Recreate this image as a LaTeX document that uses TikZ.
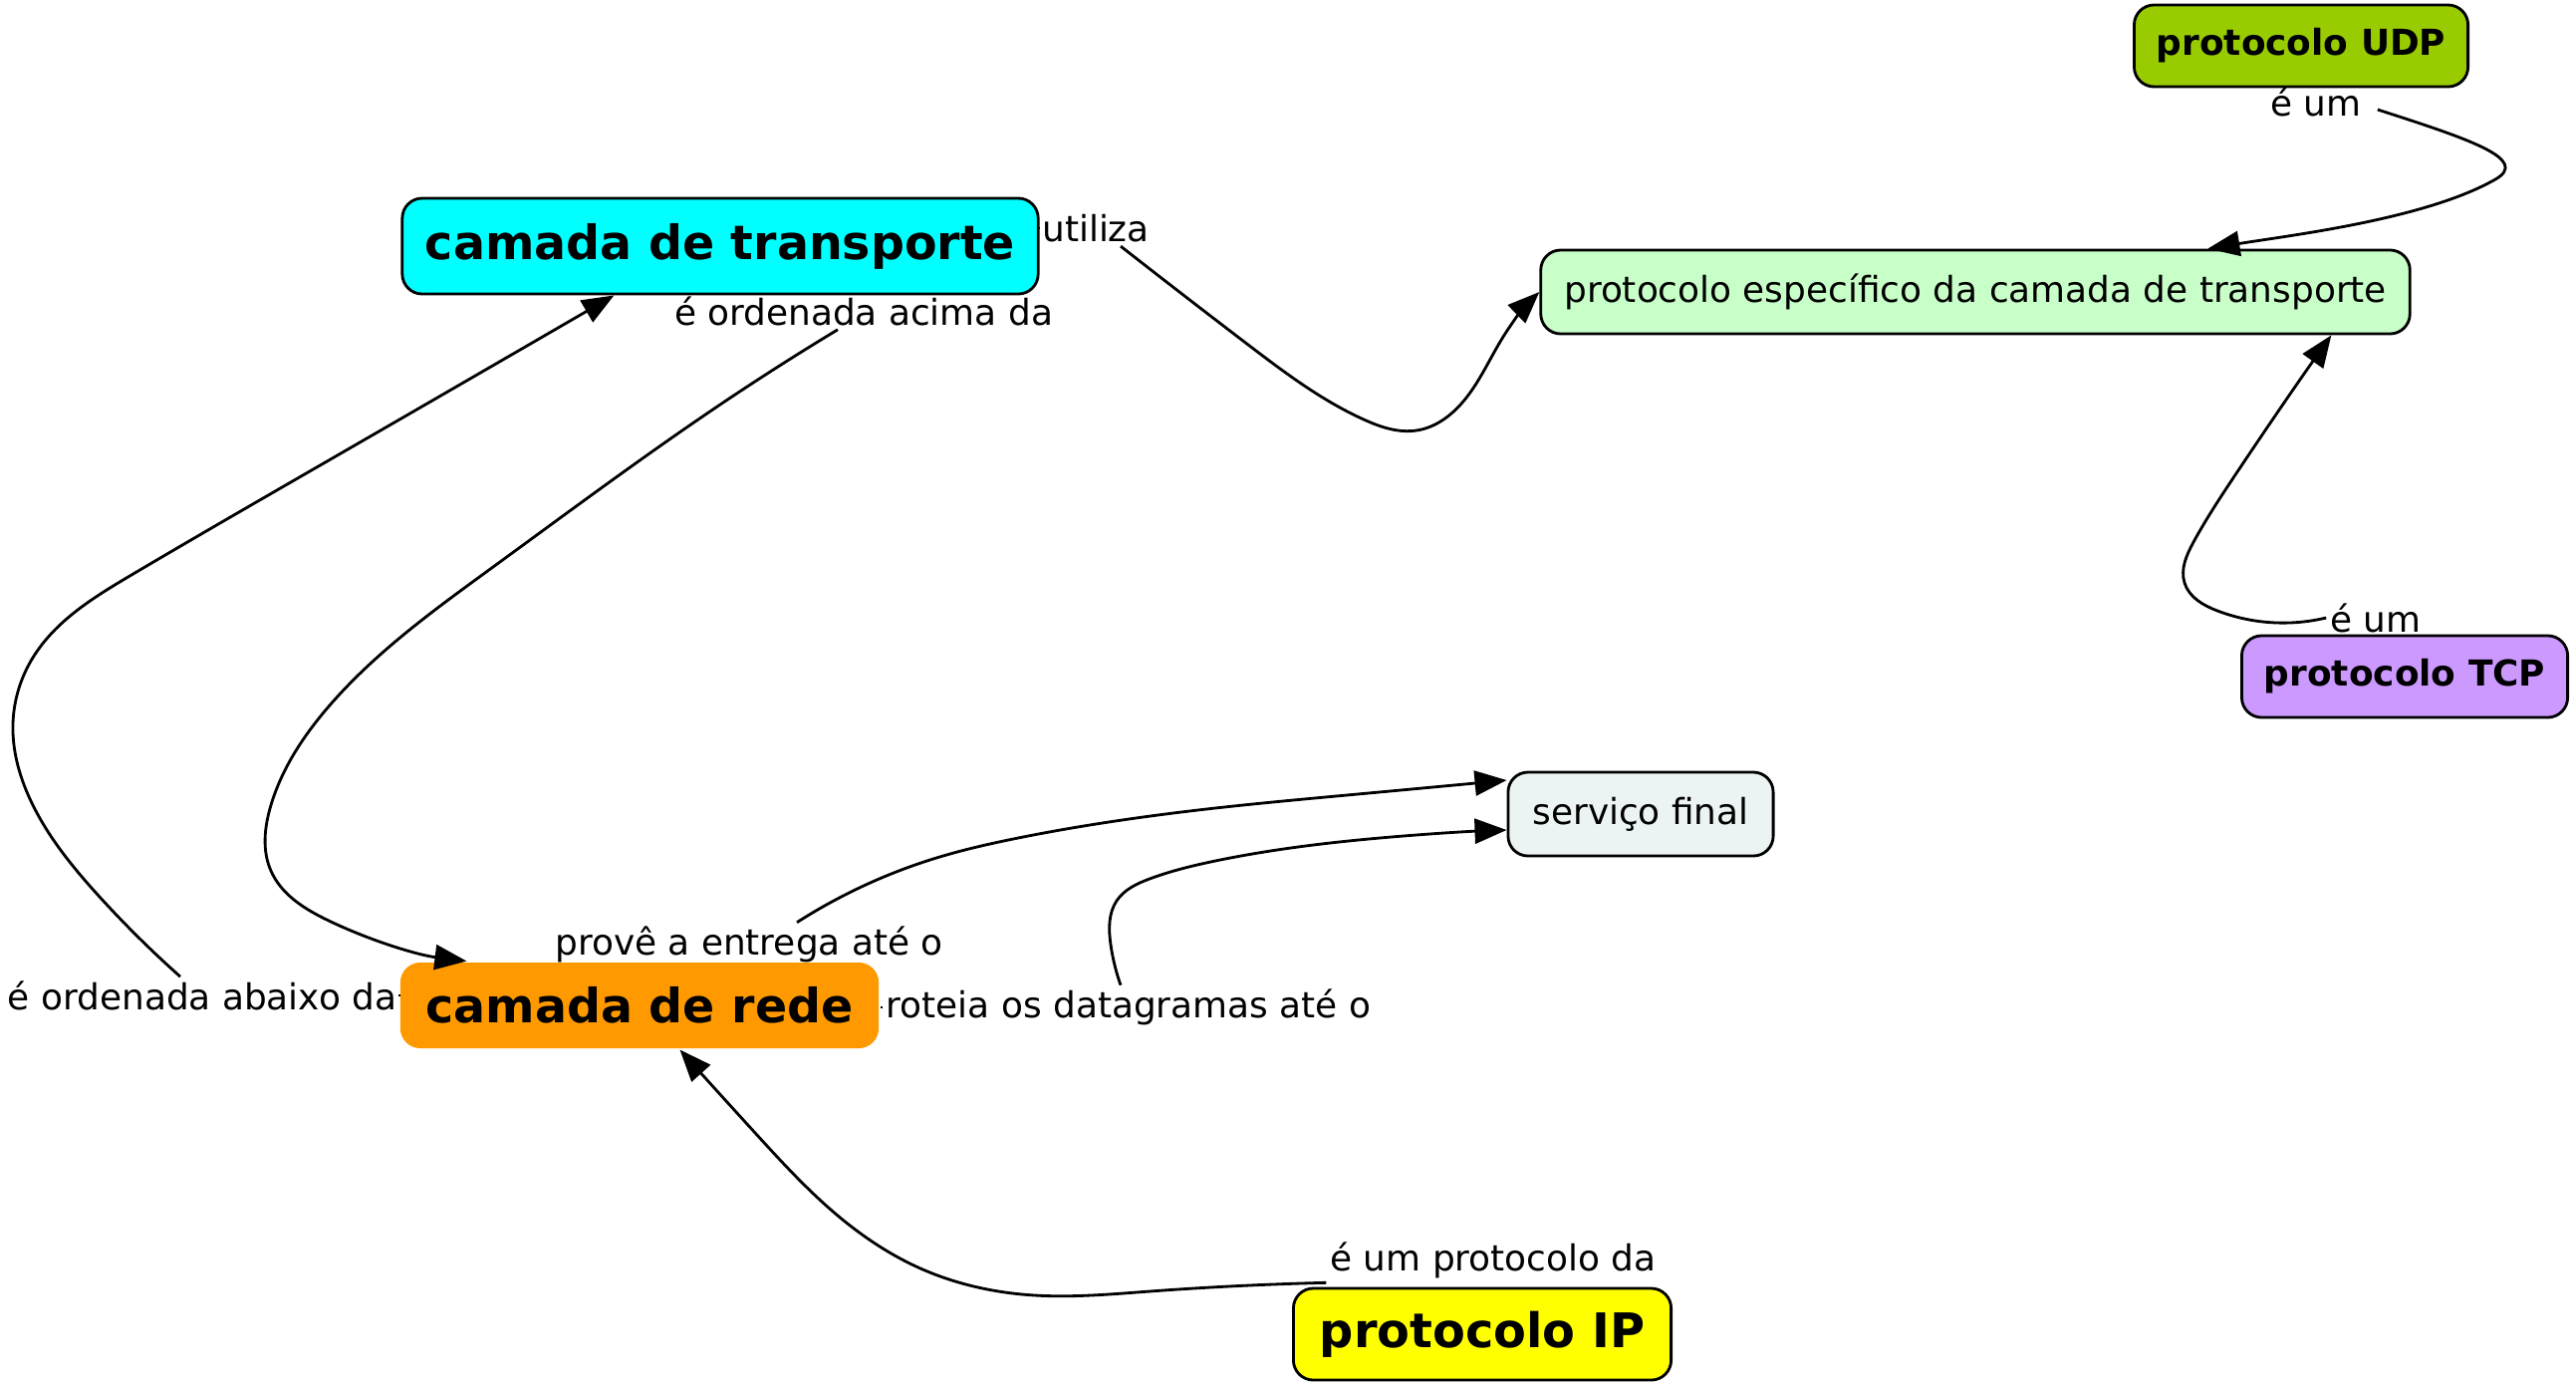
\documentclass[tikz,border=0pt]{standalone}
\usepackage{fontspec}
\setmainfont{DejaVu Sans}
\usepackage{xcolor}
\usetikzlibrary{calc, hobby, arrows.meta}

\definecolor{ctcyan}{HTML}{00FFFF}
\definecolor{pegreen}{HTML}{C8FFC8}
\definecolor{udpgreen}{HTML}{99CC00}
\definecolor{tcplilac}{HTML}{CC99FF}
\definecolor{sfgray}{HTML}{ECF3F3}
\definecolor{crorange}{HTML}{FF9900}
\definecolor{ipyellow}{HTML}{FFFF00}

\tikzset{
	concept/.style = {draw, line width = 0.8pt, rounded corners = 0.2cm, inner sep = 0pt, align = center},
	bigtxt/.style = {font = \fontsize{13.5}{16}\selectfont\bfseries},
	smalltxt/.style = {font = \fontsize{10.2}{12}\selectfont},
	smallbold/.style = {font = \fontsize{10.2}{12}\selectfont\bfseries},
	linkphrase/.style = {inner sep = 1pt, font = \fontsize{10.2}{12}\selectfont},
	arrowlink/.style = {line width = 0.8pt, -{Triangle[length = 0.32cm, width = 0.25cm]}},
	link/.style = {arrowlink, use Hobby shortcut},
	tick/.style = {line width = 0.8pt}
}

\begin{document}
\begin{tikzpicture}[x = 0.01cm, y = -0.01cm]
	\useasboundingbox (0,0) rectangle (2586,1390);

	% concepts
	\node [concept, bigtxt, fill = ctcyan, minimum width = 6.38cm, minimum height = 0.96cm] (ct) at (723,247) {camada de transporte};
	\node [concept, smalltxt, fill = pegreen, minimum width = 8.72cm, minimum height = 0.84cm] (pe) at (1983,293) {protocolo específico da camada de transporte};
	\node [concept, smallbold, fill = udpgreen, minimum width = 3.35cm, minimum height = 0.82cm] (udp) at (2310,46) {protocolo UDP};
	\node [concept, smallbold, fill = tcplilac, minimum width = 3.27cm, minimum height = 0.82cm] (tcp) at (2414,679) {protocolo TCP};
	\node [concept, smalltxt, fill = sfgray, minimum width = 2.66cm, minimum height = 0.84cm] (sf) at (1647,817) {serviço final};
	\node [concept, bigtxt, draw = none, fill = crorange, minimum width = 4.80cm, minimum height = 0.86cm] (cr) at (642,1009) {camada de rede};
	\node [concept, bigtxt, font = \fontsize{13.6}{16}\selectfont\bfseries, fill = ipyellow, minimum width = 3.79cm, minimum height = 0.92cm] (ip) at (1488,1339) {protocolo IP};

	% linking phrases
	\node [linkphrase] (utiliza) at (1100,229) {utiliza};
	\node [linkphrase] (acima) at (867,312) {é ordenada acima da};
	\node [linkphrase] (udpeum) at (2325,102) {é um};
	\node [linkphrase] (tcpeum) at (2385,620) {é um};
	\node [linkphrase] (abaixo) at (203,999) {é ordenada abaixo da};
	\node [linkphrase] (prove) at (752,948) {provê a entrega até o};
	\node [linkphrase] (roteia) at (1133,1011) {roteia os datagramas até o};
	\node [linkphrase] (ipda) at (1499,1265) {é um protocolo da};

	% short joins concept -- phrase
	\draw [tick] (ct.east |- utiliza.west) -- (utiliza.west);
	\draw [tick] (abaixo.east) -- (cr.west |- abaixo.east);
	\draw [tick] (cr.east |- roteia.west) -- (roteia.west);

	% links
	\draw [link] ($(utiliza.south)+(25,0)$) .. (1253,346) .. (1369,421) .. (1422,432) .. (1468,404) .. (1509,338) .. (pe.west);
	\draw [link] ($(acima.south)+(-26,0)$) .. (726,404) .. (495,569) .. (330,709) .. (272,808) .. (272,874) .. (330,924) .. ($(cr.north west)+(68,0)$);
	\draw [link] ($(abaixo.north)+(-22,0)$) .. (99,899) .. (33,808) .. (13,726) .. (33,660) .. (132,577) .. (330,462) .. ($(ct.south west)+(214,0)$);
	\draw [link] ($(prove.north)+(48,0)$) .. (940,861) .. (1022,841) .. (1220,811) .. (1352,798) .. ($(sf.west)+(0,-34)$);
	\draw [link] ($(roteia.north)+(-8,0)$) .. (1115,948) .. (1121,904) .. (1154,882) .. (1220,864) .. (1385,841) .. ($(sf.west)+(0,16)$);
	\draw [link] (ipda.south west) .. (1154,1296) .. (1039,1300) .. (924,1273) .. (841,1220) .. (759,1138) .. ($(cr.south west)+(282,0)$);
	\draw [arrowlink] ($(udpeum.east)+(12,8)$) .. controls (2480,140) and (2540,160) .. (2505,180) .. controls (2435,220) and (2300,236) .. ($(pe.north west)+(671,0)$);
	\draw [link] (tcpeum.west) .. (2226,613) .. (2193,585) .. (2202,544) .. (2243,478) .. ($(pe.south west)+(795,0)$);
\end{tikzpicture}
\end{document}
